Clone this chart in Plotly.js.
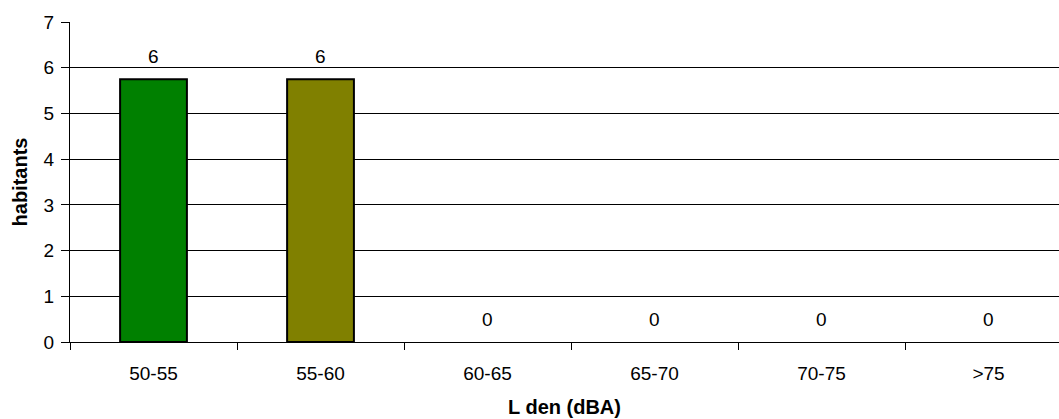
<!DOCTYPE html>
<html><head><meta charset="utf-8">
<script src="https://cdn.plot.ly/plotly-3.0.1.min.js"></script>
<style>html,body{margin:0;padding:0;background:#fff}</style>
</head><body>
<div id="chart" style="width:1059px;height:419px"></div>
<script>
const categories = ["50-55", "55-60", "60-65", "65-70", "70-75", ">75"];
const values = [5.75, 5.75, 0, 0, 0, 0];
const labels = ["6", "6", "0", "0", "0", "0"];
const barColors = ["#008000", "#808000", "#008000", "#008000", "#008000", "#008000"];

const FONT = "Liberation Sans, Arial, sans-serif";

const trace = {
  type: "bar",
  x: categories,
  y: values,
  marker: {color: barColors, line: {color: "#000", width: values.map(v => v > 0 ? 2 : 0)}},
  width: 0.4,
  hoverinfo: "none"
};

const annotations = categories.map((c, i) => ({
  x: c, y: values[i], xref: "x", yref: "y",
  text: labels[i], showarrow: false,
  yanchor: "bottom", yshift: 10,
  font: {family: FONT, size: 19, color: "#000"}
}));

const layout = {
  width: 1059, height: 419,
  margin: {l: 70, r: 0, t: 22, b: 77},
  paper_bgcolor: "#fff", plot_bgcolor: "#fff",
  font: {family: FONT, size: 19, color: "#000"},
  showlegend: false,
  annotations: annotations,
  xaxis: {
    type: "category",
    range: [-0.5, 5.422],
    showline: true, linecolor: "#000", linewidth: 1,
    ticks: "outside", tickson: "boundaries", ticklen: 7, tickcolor: "#000",
    ticklabelstandoff: 14,
    showgrid: false, zeroline: false,
    tickfont: {size: 19},
    title: {text: "<b>L den (dBA)</b>", font: {size: 20}, standoff: 17}
  },
  yaxis: {
    range: [0, 7], dtick: 1,
    showline: true, linecolor: "#000", linewidth: 1,
    ticks: "outside", ticklen: 8, tickcolor: "#000",
    ticklabelstandoff: 3,
    showgrid: true, gridcolor: "#000", gridwidth: 1,
    zeroline: false,
    tickfont: {size: 19},
    title: {text: "<b>habitants</b>", font: {size: 20}, standoff: 10}
  }
};

Plotly.newPlot("chart", [trace], layout, {staticPlot: true, displayModeBar: false});
</script>
</body></html>
